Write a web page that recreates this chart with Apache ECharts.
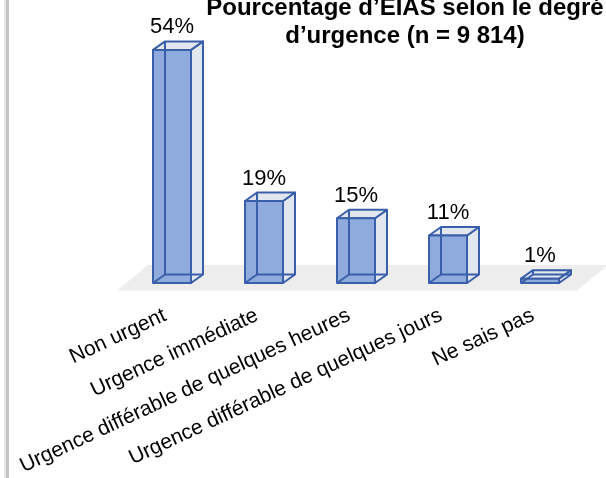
<!DOCTYPE html>
<html>
<head>
<meta charset="utf-8">
<script src="https://cdn.jsdelivr.net/npm/echarts@6/dist/echarts.min.js"></script>
<style>
  html, body { margin: 0; padding: 0; background: #ffffff; }
  #chart { width: 606px; height: 478px; }
</style>
</head>
<body>
<div id="chart"></div>
<script>
const categories = [
  'Non urgent',
  'Urgence immédiate',
  'Urgence différable de quelques heures',
  'Urgence différable de quelques jours',
  'Ne sais pas'
];
const values = [54, 19, 15, 11, 1];
const titleLines = ['Pourcentage d\u2019EIAS selon le degré', 'd\u2019urgence (n = 9 814)'];

const FONT = '"Liberation Sans", Arial, sans-serif';
const EDGE = '#3A5FA9';
const FRONT = '#8FAADC';
const SIDE = '#E2E6EF';
const DX = 12, DY = -8.5, BAR_W = 38;

const chart = echarts.init(document.getElementById('chart'), null, { renderer: 'canvas' });

const option = {
  backgroundColor: '#ffffff',
  animation: false,
  title: {
    text: titleLines.join('\n'),
    left: 400,
    top: -11,
    textAlign: 'center',
    textStyle: { fontFamily: FONT, fontSize: 24, fontWeight: 'bold', color: '#000000', lineHeight: 28 }
  },
  graphic: [
    { type: 'rect', shape: { x: 4, y: 0, width: 2, height: 478 }, style: { fill: '#E6E6E6' }, silent: true },
    { type: 'rect', shape: { x: 6, y: 0, width: 3, height: 478 }, style: { fill: '#C4C4C4' }, silent: true }
  ],
  grid: [
    { left: 126, width: 460, top: 24, height: 259 },
    { left: 119, width: 460, top: 24, height: 259 }
  ],
  xAxis: [
    { type: 'category', gridIndex: 0, data: categories, show: false },
    {
      type: 'category', gridIndex: 1, data: categories,
      axisLine: { show: false }, axisTick: { show: false },
      axisLabel: { interval: 0, rotate: 25, margin: 33, fontFamily: FONT, fontSize: 21, color: '#000000' }
    }
  ],
  yAxis: [
    { type: 'value', gridIndex: 0, min: 0, max: 60, show: false },
    { type: 'value', gridIndex: 1, min: 0, max: 60, show: false }
  ],
  series: [
    {
      type: 'custom',
      name: 'floor',
      xAxisIndex: 0, yAxisIndex: 0,
      data: [[0, 0]],
      z: 1,
      silent: true,
      renderItem: function (params, api) {
        const cs = params.coordSys;
        const base = api.coord([0, 0])[1];
        const x = cs.x, w = cs.width;
        return {
          type: 'polygon',
          shape: { points: [
            [x - 9, base + 7.5], [x + w - 9, base + 7.5],
            [x + w + 22, base - 18], [x + 22, base - 18]
          ] },
          style: { fill: '#EDEDED' }
        };
      }
    },
    {
      type: 'custom',
      name: 'EIAS',
      xAxisIndex: 0, yAxisIndex: 0,
      data: values.map(function (v, i) { return [i, v]; }),
      z: 2,
      renderItem: function (params, api) {
        const idx = api.value(0), v = api.value(1);
        const b = api.coord([idx, 0]);
        const t = api.coord([idx, v]);
        const x0 = b[0] - BAR_W / 2, x1 = b[0] + BAR_W / 2;
        const yb = b[1], yt = t[1];
        const ls = { stroke: EDGE, lineWidth: 2, lineJoin: 'round' };
        return {
          type: 'group',
          children: [
            { type: 'polygon', shape: { points: [[x1, yt], [x1 + DX, yt + DY], [x1 + DX, yb + DY], [x1, yb]] },
              style: Object.assign({ fill: SIDE }, ls) },
            { type: 'polygon', shape: { points: [[x0, yt], [x1, yt], [x1 + DX, yt + DY], [x0 + DX, yt + DY]] },
              style: Object.assign({ fill: SIDE }, ls) },
            { type: 'rect', shape: { x: x0, y: yt, width: x1 - x0, height: yb - yt },
              style: Object.assign({ fill: FRONT }, ls) },
            { type: 'polyline', shape: { points: [[x0 + DX, yt + DY], [x0 + DX, yb + DY], [x1 + DX, yb + DY]] },
              style: Object.assign({ fill: null }, ls) },
            { type: 'line', shape: { x1: x0, y1: yb, x2: x0 + DX, y2: yb + DY },
              style: Object.assign({}, ls) },
            { type: 'text', x: b[0], y: yt + DY - 3,
              style: { text: v + '%', align: 'center', verticalAlign: 'bottom',
                       font: '22px ' + FONT, fill: '#000000' } }
          ]
        };
      }
    }
  ]
};
chart.setOption(option);
</script>
</body>
</html>
